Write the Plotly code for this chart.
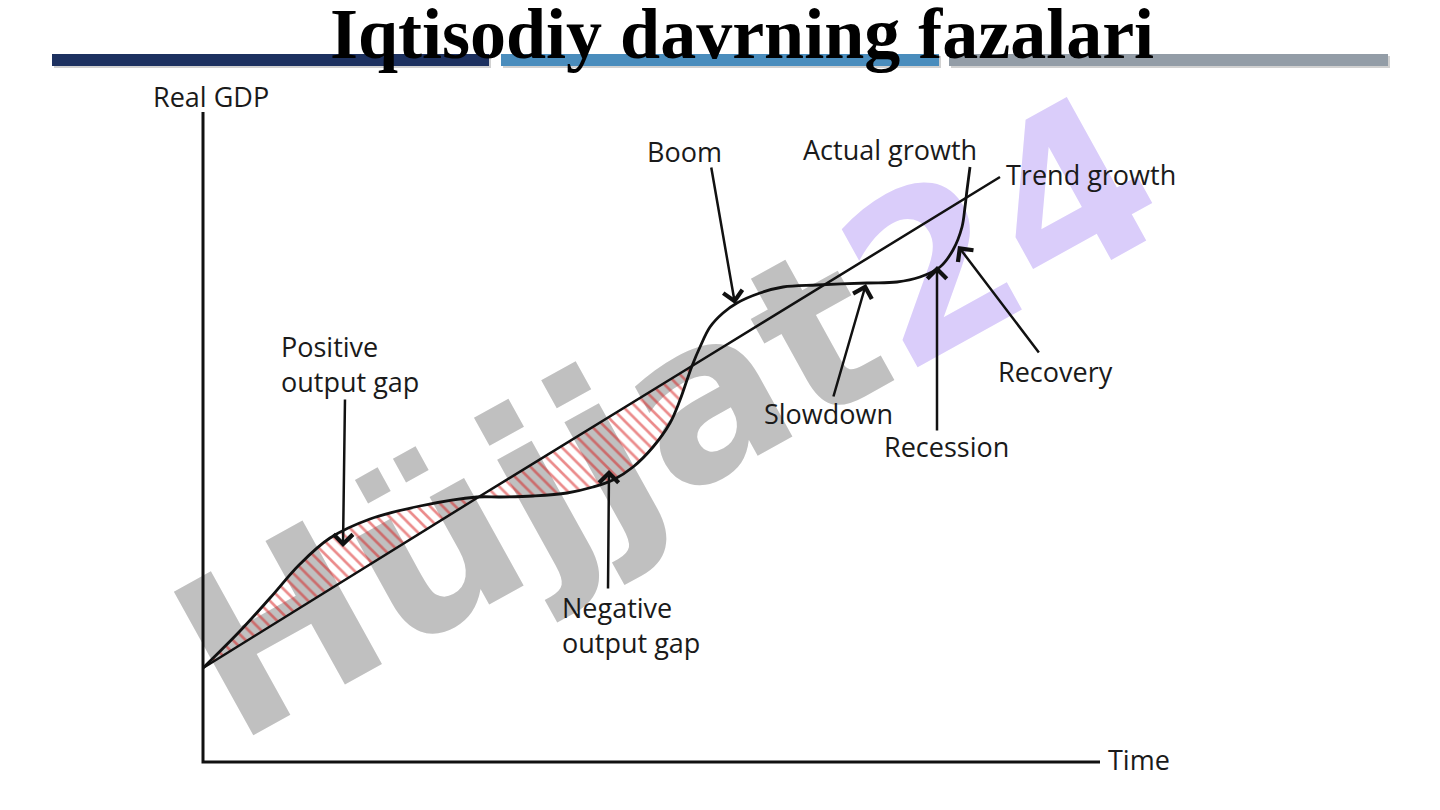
import plotly.graph_objects as go

TITLE = "Iqtisodiy davrning fazalari"
WATERMARK = "Hüjjat<span style='color:#dacdfa'>24</span>"

# Diagram values (pixel units of the 1440x810 canvas, y grows downward)
actual_x = [203, 240, 270, 300, 330, 370, 420, 477,
            500, 533, 567, 593, 613, 633, 653, 670, 680, 687, 692,
            700, 710, 723, 737, 760, 783, 817, 867, 897, 920, 940, 953, 962, 965, 967, 970]
actual_y = [668, 631, 598, 564, 538, 519, 506, 497,
            497, 496, 493, 487, 480, 467, 447, 423, 400, 380, 366,
            347, 327, 313, 303, 293, 287, 285, 283, 282, 277, 267, 250, 227, 207, 190, 167]
trend_x = [203, 477, 692, 967, 1000]
trend_y = [668, 498, 366, 197, 177]

axis_x = [203, 203, 1100]
axis_y = [112, 762, 762]

POS_END = 7    # index where actual crosses trend (first time)
NEG_END = 18   # index where actual crosses trend (second time)

arrow_tail_x = [345, 608, 711, 833, 937, 1040]
arrow_tail_y = [398, 590, 166, 398, 432, 354]
arrow_head_x = [343, 609, 735, 866, 937, 958]
arrow_head_y = [547, 470, 304, 284, 266, 246]

labels = ["Real GDP", "Positive<br>output gap", "Negative<br>output gap", "Boom",
          "Actual growth", "Trend growth", "Slowdown", "Recession", "Recovery", "Time"]
label_x = [211, 279, 560, 684, 890, 1004, 828, 946, 1055, 1106]
label_y = [96, 364, 625, 151, 149, 174, 413, 446, 371, 759]
label_anchor = ["center", "left", "left", "center", "center", "left",
                "center", "center", "center", "left"]

bar_x0 = [52, 501, 949]
bar_x1 = [489, 939, 1388]
bar_colors = ["#1d3160", "#4a8dbd", "#939da7"]

fig = go.Figure()

hatch = dict(shape="\\", fgcolor="#d81818", bgcolor="rgba(0,0,0,0)", size=9, solidity=0.3)

# Positive output gap hatch
fig.add_trace(go.Scatter(x=trend_x[0:2], y=trend_y[0:2], mode="lines",
                         line=dict(width=0, color="rgba(0,0,0,0)"), hoverinfo="skip"))
fig.add_trace(go.Scatter(x=actual_x[0:POS_END + 1], y=actual_y[0:POS_END + 1], mode="lines",
                         line=dict(width=0, shape="spline", color="rgba(0,0,0,0)"),
                         fill="tonexty", fillcolor="rgba(0,0,0,0)", fillpattern=hatch,
                         hoverinfo="skip"))
# Negative output gap hatch
fig.add_trace(go.Scatter(x=trend_x[1:3], y=trend_y[1:3], mode="lines",
                         line=dict(width=0, color="rgba(0,0,0,0)"), hoverinfo="skip"))
fig.add_trace(go.Scatter(x=actual_x[POS_END:NEG_END + 1], y=actual_y[POS_END:NEG_END + 1],
                         mode="lines",
                         line=dict(width=0, shape="spline", color="rgba(0,0,0,0)"),
                         fill="tonexty", fillcolor="rgba(0,0,0,0)", fillpattern=hatch,
                         hoverinfo="skip"))

# Axes
fig.add_trace(go.Scatter(x=axis_x, y=axis_y, mode="lines",
                         line=dict(width=3, color="#111111"), hoverinfo="skip"))
# Trend growth line
fig.add_trace(go.Scatter(x=trend_x, y=trend_y, mode="lines",
                         line=dict(width=2.5, color="#111111"), hoverinfo="skip"))
# Actual growth curve
fig.add_trace(go.Scatter(x=actual_x, y=actual_y, mode="lines",
                         line=dict(width=2.8, color="#111111", shape="spline"),
                         hoverinfo="skip"))

shapes = []
# Watermark (behind the diagram)
shapes.append(dict(type="line", xref="x", yref="y", x0=270, y0=620, x1=1050, y1=185,
                   layer="below", line=dict(width=0, color="rgba(0,0,0,0)"),
                   label=dict(text=WATERMARK, textangle=-29, textposition="middle",
                              xanchor="center", yanchor="middle",
                              font=dict(family="DejaVu Sans", size=225, color="#c0c0c0",
                                        weight="bold"))))
# Header bars
for x0, x1, c in zip(bar_x0, bar_x1, bar_colors):
    shapes.append(dict(type="rect", xref="x", yref="y", x0=x0 + 2, x1=x1 + 2, y0=56, y1=68,
                       layer="above", line=dict(width=0), fillcolor="rgba(0,0,0,0.18)"))
    shapes.append(dict(type="rect", xref="x", yref="y", x0=x0, x1=x1, y0=54, y1=66,
                       layer="above", line=dict(width=0), fillcolor=c))

annotations = []
annotations.append(dict(x=742, y=34, xref="x", yref="y", text="<b>" + TITLE + "</b>",
                        showarrow=False, xanchor="center", yanchor="middle",
                        font=dict(family="Liberation Serif", size=72, color="#000000")))
for t, x, y, a in zip(labels, label_x, label_y, label_anchor):
    annotations.append(dict(x=x, y=y, xref="x", yref="y", text=t, showarrow=False,
                            xanchor=a, yanchor="middle", align="left",
                            font=dict(family="Open Sans", size=27, color="#1a1a1a")))
for tx, ty, hx, hy in zip(arrow_tail_x, arrow_tail_y, arrow_head_x, arrow_head_y):
    annotations.append(dict(x=hx, y=hy, ax=tx, ay=ty, xref="x", yref="y", axref="x", ayref="y",
                            text="", showarrow=True, arrowhead=4, arrowsize=1.5,
                            arrowwidth=2.5, arrowcolor="#111111", standoff=0))

fig.update_layout(
    width=1440, height=810,
    margin=dict(l=0, r=0, t=0, b=0),
    paper_bgcolor="#ffffff", plot_bgcolor="#ffffff",
    showlegend=False,
    xaxis=dict(range=[0, 1440], visible=False, fixedrange=True),
    yaxis=dict(range=[810, 0], visible=False, fixedrange=True),
    shapes=shapes,
    annotations=annotations,
)

fig.write_html("out.html", config={"displayModeBar": False},
               post_script="document.body.style.margin='0';document.body.style.overflow='hidden';")
